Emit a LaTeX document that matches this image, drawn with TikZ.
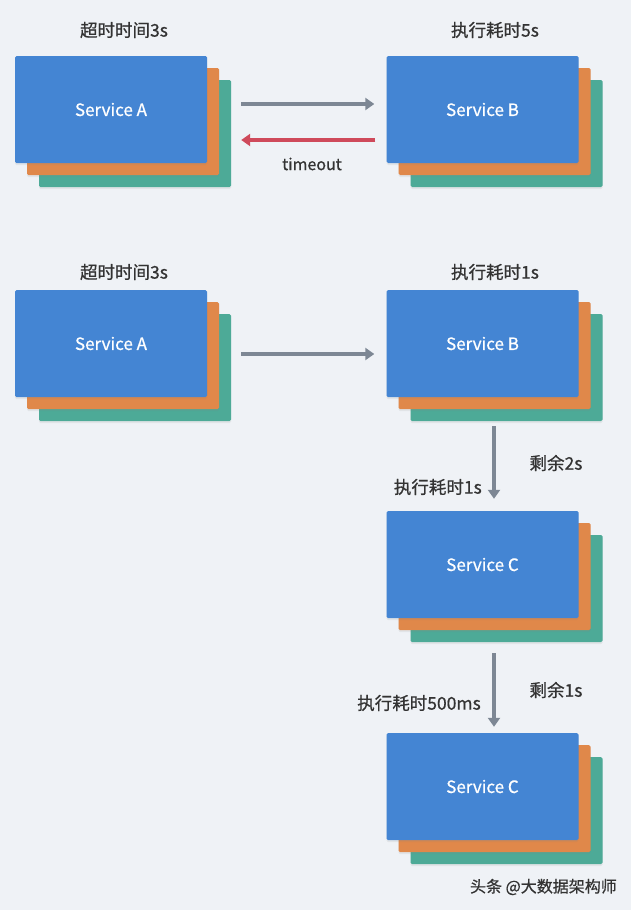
\documentclass[tikz,border=0pt]{standalone}
\usepackage{fontspec}
\setmainfont{Noto Sans CJK SC}[FakeBold=0.7]
\usetikzlibrary{arrows.meta,calc,shadows}
\definecolor{bg}{HTML}{EFF2F6}
\definecolor{cblue}{HTML}{4485D3}
\definecolor{corange}{HTML}{E0884A}
\definecolor{cgreen}{HTML}{4DAA97}
\definecolor{cgray}{HTML}{7D8794}
\definecolor{cred}{HTML}{CF4A5B}
\definecolor{ctext}{HTML}{333333}
\tikzset{
  card/.style={rectangle, rounded corners=1.5pt, minimum width=192pt, minimum height=107pt, inner sep=0pt,
    drop shadow={opacity=0.12, shadow xshift=0pt, shadow yshift=-2pt}},
  bluecard/.style={card, fill=cblue, text=white, font=\fontsize{17}{20}\selectfont},
  orangecard/.style={card, fill=corange},
  greencard/.style={card, fill=cgreen},
  lbl/.style={text=ctext, font=\fontsize{17.5}{20}\selectfont, inner sep=0pt},
  grayarr/.style={draw=cgray, line width=3.5pt, -{Triangle[length=9pt,width=12pt]}},
  redarr/.style={draw=cred, line width=3.5pt, -{Triangle[length=9pt,width=12pt]}},
}
\newcommand\svcstack[4]{% name, cx, cy, text
  \node[greencard] (#1g) at (#2+24,#3+24) {};
  \node[orangecard] (#1o) at (#2+12,#3+12) {};
  \node[bluecard] (#1) at (#2,#3) {#4};
}
\begin{document}
\begin{tikzpicture}[x=1pt,y=-1pt]
\fill[bg] (0,0) rectangle (631,910);
\useasboundingbox (0,0) rectangle (631,910);

\svcstack{a1}{111}{109.5}{Service A}
\svcstack{b1}{482.5}{109.5}{Service B}
\svcstack{a2}{111}{343.5}{Service A}
\svcstack{b2}{482.5}{343.5}{Service B}
\svcstack{c1}{482.5}{564.5}{Service C}
\svcstack{c2}{482.5}{786.5}{Service C}

\node[lbl] (l1) at (124,30) {超时时间3s};
\node[lbl] (l2) at (495,30) {执行耗时5s};
\node[lbl] (l3) at (124,272) {超时时间3s};
\node[lbl] (l4) at (495,272) {执行耗时1s};

% top row arrows
\draw[grayarr] ($(a1g.east |- 0,104)+(10,0)$) -- ($(b1.west |- 0,104)+(-12,0)$);
\draw[redarr] ($(b1.west |- 0,140)+(-11,0)$) -- ($(a1g.east |- 0,140)+(10,0)$);
\node[lbl, font=\fontsize{16}{19}\selectfont] (to) at (312,164) {timeout};

% second row
\draw[grayarr] ($(a2g.east |- 0,354)+(10,0)$) -- ($(b2.west |- 0,354)+(-12,0)$);

% vertical arrows
\draw[grayarr] ($(b2g.south -| 494,0)+(0,5)$) -- ($(c1.north -| 494,0)+(0,-12)$);
\node[lbl] (r2) at (556,463) {剩余2s};
\node[lbl, anchor=east] (e1) at (482,487) {执行耗时1s};

\draw[grayarr] ($(c1g.south -| 494,0)+(0,11)$) -- ($(c2.north -| 494,0)+(0,-6)$);
\node[lbl] (r1) at (556,690) {剩余1s};
\node[lbl, anchor=east] (e2) at (481,703) {执行耗时500ms};

\node[lbl, anchor=east, font=\fontsize{16}{19}\selectfont, text=black!80] (wm) at (617,887) {头条 @大数据架构师};
\end{tikzpicture}
\end{document}
